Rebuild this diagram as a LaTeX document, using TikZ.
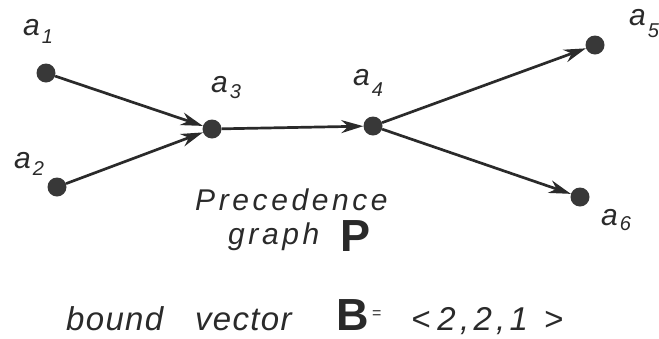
\documentclass[tikz,border=0pt]{standalone}
\usepackage{fontspec}
\setmainfont{Liberation Sans}
\newfontfamily\pfont{Liberation Sans}[LetterSpace=12]
\newfontfamily\bfontt{Liberation Sans}[LetterSpace=4]
\newfontfamily\nfont{Liberation Sans}[LetterSpace=13]
\usetikzlibrary{arrows.meta}
\definecolor{ink}{HTML}{2A2A2A}
\definecolor{dotc}{HTML}{383838}
\newcommand{\albl}[2]{a\kern2pt\raisebox{-#2pt}{\fontsize{20}{20}\selectfont #1}}
\begin{document}
\begin{tikzpicture}[x=1pt,y=-1pt,
  dot/.style={circle,fill=dotc,inner sep=0pt,minimum size=19pt},
  edge/.style={draw=ink,line width=2.7pt,-{Stealth[length=22pt,width=13pt,inset=7pt]}},
  lab/.style={anchor=base west,inner sep=0pt,text=ink,font=\fontsize{30}{30}\selectfont\itshape},
  txt/.style={anchor=base west,inner sep=0pt,text=ink},
  bigl/.style={txt,text height=33pt,text depth=0pt,font=\fontsize{45}{45}\selectfont\bfseries},
  ptxt/.style={txt,font=\pfont\fontsize{30}{30}\selectfont\itshape},
  btxt/.style={txt,font=\bfontt\fontsize{33}{33}\selectfont\itshape},
]
\useasboundingbox (0,0) rectangle (659,338);
\node[dot] (a1) at (46,73) {};
\node[dot] (a2) at (57,187) {};
\node[dot] (a3) at (212,129) {};
\node[dot] (a4) at (373,126) {};
\node[dot] (a5) at (595,45) {};
\node[dot] (a6) at (580,197) {};
\draw[edge] (a1) -- (a3);
\draw[edge] (a2) -- (a3);
\draw[edge] (a3) -- (a4);
\draw[edge] (a4) -- (a5);
\draw[edge] (a4) -- (a6);
\node[lab] (l1) at (23,35) {\albl{1}{8}};
\node[lab] (l2) at (14,168) {\albl{2}{7}};
\node[lab] (l3) at (211,92) {\albl{3}{6}};
\node[lab] (l4) at (353,85) {\albl{4}{11}};
\node[lab] (l5) at (629,25) {\albl{5}{12}};
\node[lab] (l6) at (601,225) {\albl{6}{5}};
\node[ptxt,text depth=0pt] (prec) at (195,210) {Precedence};
\node[ptxt] (graph) at (228,244) {graph};
\node[bigl] (P) at (340,251) {P};
\node[btxt] (bound) at (66,330) {bound};
\node[btxt] (vector) at (195,330) {vector};
\node[bigl] (B) at (336,330) {B};
\node[txt,font=\fontsize{16}{16}\selectfont] (eq) at (372,318) {=};
\node[txt,font=\nfont\fontsize{33}{33}\selectfont\itshape] (vec) at (411,330) {<\hspace{7pt}2,2,1\hspace{16pt}>};
\end{tikzpicture}
\end{document}
